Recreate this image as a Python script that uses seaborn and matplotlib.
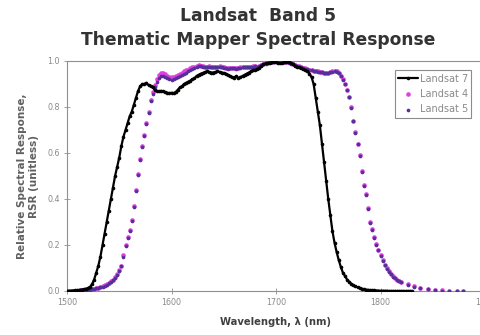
import numpy as np
import pandas as pd
import matplotlib
matplotlib.use("Agg")
import matplotlib.pyplot as plt
import seaborn as sns

# Wavelength grids (nm)
wl_tm7 = np.arange(1500, 1831, 2)
wl_tm45 = np.concatenate([np.arange(1500, 1821, 2),
                          [1826, 1832, 1838, 1845, 1852, 1859, 1866, 1873, 1879]])

# Relative spectral response, Landsat 7 ETM+ band 5
rsr_landsat7 = [
    0.0, 0.0, 0.0, 0.002, 0.003,
    0.004, 0.005, 0.006, 0.008, 0.010,
    0.013, 0.018, 0.030, 0.050, 0.080,
    0.110, 0.150, 0.200, 0.250, 0.300,
    0.350, 0.400, 0.450, 0.500, 0.540,
    0.580, 0.630, 0.670, 0.700, 0.730,
    0.760, 0.780, 0.810, 0.840, 0.870,
    0.890, 0.900, 0.900, 0.905, 0.895,
    0.890, 0.885, 0.875, 0.870, 0.868,
    0.870, 0.868, 0.865, 0.862, 0.860,
    0.862, 0.860, 0.865, 0.875, 0.885,
    0.890, 0.900, 0.905, 0.910, 0.915,
    0.920, 0.925, 0.935, 0.940, 0.945,
    0.948, 0.952, 0.955, 0.952, 0.950,
    0.950, 0.952, 0.955, 0.953, 0.950,
    0.948, 0.945, 0.940, 0.935, 0.930,
    0.928, 0.935, 0.925, 0.930, 0.935,
    0.940, 0.945, 0.950, 0.955, 0.960,
    0.962, 0.965, 0.970, 0.978, 0.985,
    0.990, 0.992, 0.993, 0.994, 0.995,
    0.995, 0.993, 0.990, 0.992, 0.995,
    0.996, 0.994, 0.990, 0.985, 0.980,
    0.975, 0.972, 0.968, 0.965, 0.960,
    0.955, 0.945, 0.930, 0.900, 0.840,
    0.780, 0.720, 0.640, 0.560, 0.480,
    0.400, 0.330, 0.260, 0.210, 0.170,
    0.135, 0.105, 0.080, 0.065, 0.050,
    0.040, 0.032, 0.025, 0.020, 0.016,
    0.013, 0.010, 0.008, 0.006, 0.005,
    0.004, 0.003, 0.003, 0.002, 0.002,
    0.001, 0.001, 0.001, 0.001, 0.0,
    0.0, 0.0, 0.0, 0.0, 0.0,
    0.0, 0.0, 0.0, 0.0, 0.0,
    0.0,
]

# Relative spectral response, Landsat 4 TM band 5
rsr_landsat4 = [
    0.0, 0.0, 0.001, 0.001, 0.002,
    0.002, 0.003, 0.003, 0.004, 0.005,
    0.006, 0.007, 0.008, 0.010, 0.012,
    0.014, 0.017, 0.020, 0.024, 0.030,
    0.036, 0.042, 0.050, 0.060, 0.072,
    0.090, 0.110, 0.155, 0.200, 0.235,
    0.265, 0.310, 0.370, 0.440, 0.510,
    0.575, 0.630, 0.680, 0.730, 0.780,
    0.830, 0.865, 0.895, 0.920, 0.940,
    0.950, 0.948, 0.942, 0.936, 0.932,
    0.930, 0.930, 0.935, 0.940, 0.945,
    0.950, 0.955, 0.960, 0.963, 0.968,
    0.972, 0.976, 0.980, 0.982, 0.980,
    0.978, 0.976, 0.975, 0.977, 0.976,
    0.975, 0.974, 0.976, 0.977, 0.975,
    0.972, 0.970, 0.968, 0.969, 0.970,
    0.970, 0.968, 0.970, 0.972, 0.975,
    0.976, 0.975, 0.974, 0.975, 0.977,
    0.978, 0.976, 0.978, 0.982, 0.987,
    0.990, 0.994, 0.996, 0.997, 0.998,
    0.998, 0.997, 0.995, 0.996, 0.997,
    0.996, 0.994, 0.990, 0.987, 0.984,
    0.980, 0.977, 0.974, 0.970, 0.968,
    0.965, 0.962, 0.960, 0.958, 0.956,
    0.955, 0.953, 0.952, 0.950, 0.950,
    0.950, 0.952, 0.955, 0.957, 0.955,
    0.948, 0.935, 0.920, 0.900, 0.875,
    0.845, 0.800, 0.740, 0.690, 0.640,
    0.590, 0.520, 0.460, 0.420, 0.360,
    0.300, 0.270, 0.235, 0.205, 0.180,
    0.155, 0.135, 0.115, 0.100, 0.085,
    0.075, 0.065, 0.058, 0.050, 0.045,
    0.040,
    0.030, 0.020, 0.014, 0.009, 0.005, 0.003, 0.002, 0.001, 0.0,
]

# Relative spectral response, Landsat 5 TM band 5
rsr_landsat5 = [
    0.0, 0.0, 0.0, 0.001, 0.001,
    0.002, 0.002, 0.003, 0.004, 0.004,
    0.005, 0.006, 0.007, 0.009, 0.011,
    0.013, 0.016, 0.019, 0.023, 0.028,
    0.034, 0.040, 0.048, 0.058, 0.070,
    0.088, 0.108, 0.150, 0.195, 0.230,
    0.260, 0.305, 0.365, 0.435, 0.505,
    0.570, 0.625, 0.675, 0.725, 0.775,
    0.825, 0.858, 0.885, 0.908, 0.925,
    0.935, 0.935, 0.930, 0.925, 0.920,
    0.918, 0.920, 0.925, 0.930, 0.935,
    0.940, 0.945, 0.950, 0.955, 0.960,
    0.965, 0.970, 0.975, 0.978, 0.977,
    0.975, 0.974, 0.973, 0.975, 0.975,
    0.974, 0.973, 0.975, 0.976, 0.974,
    0.971, 0.969, 0.967, 0.968, 0.969,
    0.969, 0.967, 0.969, 0.971, 0.974,
    0.975, 0.974, 0.973, 0.974, 0.976,
    0.977, 0.975, 0.977, 0.981, 0.986,
    0.989, 0.993, 0.995, 0.996, 0.997,
    0.997, 0.996, 0.994, 0.995, 0.996,
    0.995, 0.993, 0.989, 0.986, 0.983,
    0.979, 0.976, 0.973, 0.969, 0.967,
    0.964, 0.961, 0.959, 0.957, 0.955,
    0.954, 0.952, 0.951, 0.949, 0.949,
    0.949, 0.951, 0.954, 0.956, 0.954,
    0.946, 0.933, 0.918, 0.898, 0.872,
    0.842, 0.797, 0.737, 0.687, 0.637,
    0.587, 0.517, 0.457, 0.417, 0.357,
    0.297, 0.267, 0.232, 0.202, 0.177,
    0.152, 0.132, 0.112, 0.097, 0.083,
    0.073, 0.063, 0.056, 0.048, 0.043,
    0.038,
    0.028, 0.018, 0.012, 0.008, 0.004, 0.002, 0.001, 0.0, 0.0,
]

x_ticks = [1500, 1600, 1700, 1800, 1900]
y_ticks = [0.0, 0.2, 0.4, 0.6, 0.8, 1.0]

df7 = pd.DataFrame({"wavelength": wl_tm7, "rsr": rsr_landsat7})
df4 = pd.DataFrame({"wavelength": wl_tm45, "rsr": rsr_landsat4})
df5 = pd.DataFrame({"wavelength": wl_tm45, "rsr": rsr_landsat5})

sns.set_style("white")
plt.rcParams["font.family"] = ["DejaVu Sans"]

fig = plt.figure(figsize=(4.81, 3.35), dpi=100)
ax = fig.add_axes([67 / 481, 1 - 291 / 335, 418 / 481, 230 / 335])

sns.lineplot(data=df7, x="wavelength", y="rsr", ax=ax, color="black",
             linewidth=1.6, marker="o", markersize=2.6, markeredgewidth=0,
             label="Landsat 7", zorder=4)
sns.scatterplot(data=df4, x="wavelength", y="rsr", ax=ax, color="#e040e0",
                s=11, linewidth=0, label="Landsat 4", zorder=3)
sns.scatterplot(data=df5, x="wavelength", y="rsr", ax=ax, color="#55309a",
                s=7, linewidth=0, label="Landsat 5", zorder=3)

ax.set_xlim(1500, 1900)
ax.set_ylim(0, 1.0)
ax.set_xticks(x_ticks)
ax.set_yticks(y_ticks)
ax.set_xticklabels([str(v) for v in x_ticks])
ax.set_yticklabels([f"{v:.1f}" for v in y_ticks])
ax.tick_params(axis="both", direction="inout", length=4, width=0.6,
               colors="#909090", labelsize=5.8, labelcolor="#8a8a8a", pad=3)
ax.tick_params(axis="both", left=True, bottom=True)
for side in ["left", "bottom", "top", "right"]:
    ax.spines[side].set_color("#909090")
    ax.spines[side].set_linewidth(0.8)

ax.set_xlabel("Wavelength, λ (nm)", fontsize=7.2, fontweight="bold",
              color="#404040", labelpad=7)
ax.set_ylabel("Relative Spectral Response,\nRSR (unitless)", fontsize=7.5,
              fontweight="bold", color="#606060", labelpad=6)

leg = ax.legend(loc="upper left", bbox_to_anchor=(328 / 418, 0.96),
                fontsize=7, frameon=True, fancybox=False, borderpad=0.35,
                labelspacing=0.55, handlelength=2.0, handletextpad=0.2,
                borderaxespad=0, markerscale=1.0)
leg.get_frame().set_edgecolor("#707070")
leg.get_frame().set_linewidth(0.8)
for t in leg.get_texts():
    t.set_color("#8a8a8a")

fig.text(0.536, 1 - 16 / 335, "Landsat  Band 5", ha="center", va="center",
         fontsize=12.3, fontweight="bold", color="#333333")
fig.text(0.536, 1 - 40 / 335, "Thematic Mapper Spectral Response",
         ha="center", va="center", fontsize=12.3, fontweight="bold",
         color="#333333")

fig.savefig("out.png", dpi=100)
